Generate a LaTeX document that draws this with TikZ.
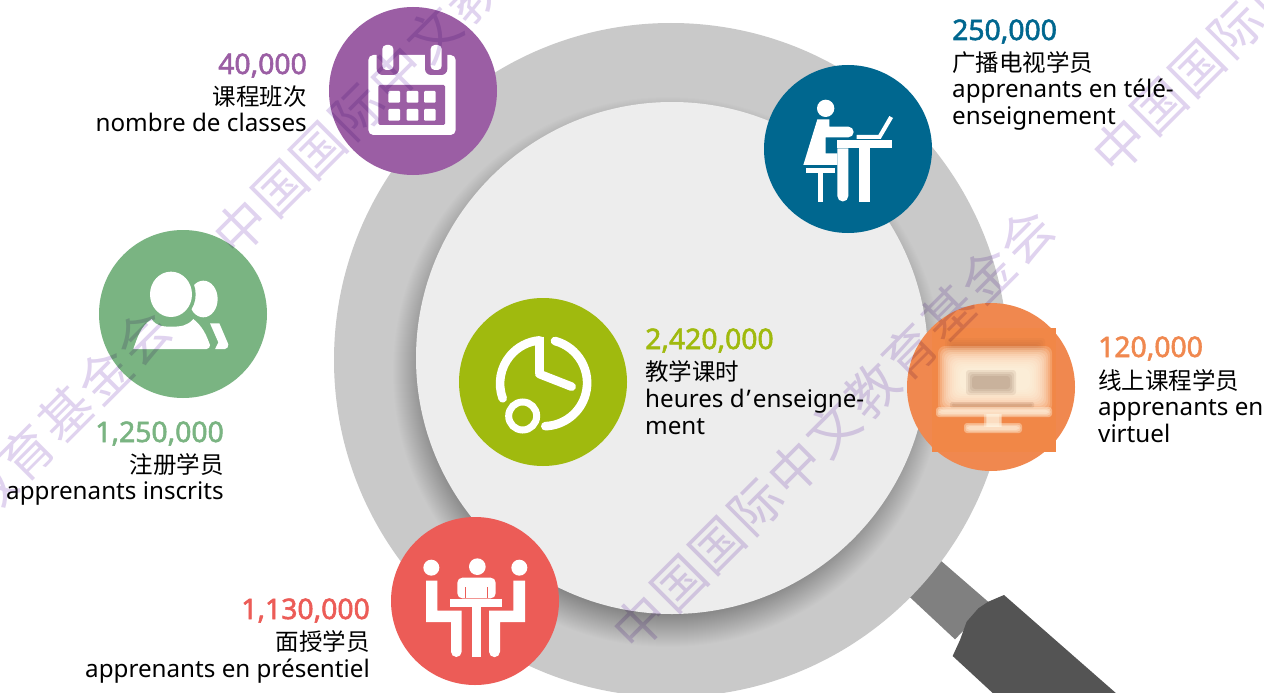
\documentclass[tikz,border=0pt]{standalone}
\usepackage{fontspec}
\setmainfont{Noto Sans}
\newfontfamily\cjk{Noto Sans CJK SC}
\newfontfamily\numfont[FakeBold=2]{Noto Sans}
\newfontfamily\wmfont[LetterSpace=5]{Noto Sans CJK SC}
\usetikzlibrary{shapes.geometric}
\definecolor{cpurple}{HTML}{9B5EA4}
\definecolor{cblue}{HTML}{00678F}
\definecolor{cgreen}{HTML}{7AB482}
\definecolor{clime}{HTML}{A0BA0E}
\definecolor{corange}{HTML}{F0884F}
\definecolor{cred}{HTML}{EC5C57}
\definecolor{wmark}{HTML}{E0D3EF}
\definecolor{cream}{HTML}{FFF6E4}
\tikzset{
  badge/.style={circle,minimum size=168pt,inner sep=0pt,draw=none},
  numr/.style={anchor=base east,inner sep=0pt,font=\fontsize{28.3}{28}\selectfont\numfont},
  numl/.style={anchor=base west,inner sep=0pt,font=\fontsize{28.3}{28}\selectfont\numfont},
  txtr/.style={anchor=base east,inner sep=0pt,font=\fontsize{24.2}{24}\selectfont,text=black},
  txtl/.style={anchor=base west,inner sep=0pt,font=\fontsize{24.2}{24}\selectfont,text=black},
  cjkr/.style={anchor=base east,inner sep=0pt,font=\fontsize{23.5}{23}\selectfont\cjk,text=black},
  cjkl/.style={anchor=base west,inner sep=0pt,font=\fontsize{23.5}{23}\selectfont\cjk,text=black},
  wmtext/.style={inner sep=0pt,rotate=45,text=wmark,font=\fontsize{52}{52}\selectfont\wmfont},
  zoomed/.style={x=.33333pt,y=-.33333pt}
}
\begin{document}
\begin{tikzpicture}[x=1pt,y=-1pt]
\useasboundingbox (0,0) rectangle (1264,693);
\fill[white] (0,0) rectangle (1264,693);
% handle
\begin{scope}[shift={(880,550)},zoomed]
\fill[black!50] (180,30) -- (330,160) -- (225,268) -- (88,140) -- cycle;
\fill[black!67] (218,318) -- (240,270) -- (260,215) -- (295,175) -- (325,155) -- (372,135) -- (720,440) -- (350,440) -- cycle;
\end{scope}
% lens ring
\fill[black!21] (671,360) circle (337);
% shadow of glass
\foreach \r in {242,...,275}
  \fill[black,opacity=.009] (668,372) circle (\r);
\fill[black!7] (672,358) circle (256);
% badges
\node[badge,fill=cpurple] (purple) at (413,91) {};
\node[badge,fill=cblue] (blue) at (848,149) {};
\node[badge,fill=cgreen] (green) at (183,314) {};
\node[badge,fill=clime] (lime) at (543,382) {};
\node[badge,fill=corange] (orange) at (991,387) {};
\node[badge,fill=cred] (red) at (475,601) {};
% calendar
\begin{scope}[shift={(320,0)},zoomed]
\fill[white,rounded corners=5pt] (145,165) rectangle (407,405);
\fill[cpurple,rounded corners=1.5pt] (175,255) rectangle (375,375);
\fill[cpurple,rounded corners=6pt] (170,120) rectangle (237,225);
\fill[cpurple,rounded corners=6pt] (315,120) rectangle (382,225);
\fill[white,rounded corners=4pt] (187,135) rectangle (220,210);
\fill[white,rounded corners=4pt] (332,135) rectangle (365,210);
\foreach \cx in {205,260,312} \foreach \cy in {273,327}
  \fill[white,rounded corners=1pt] (\cx,\cy) rectangle ++(35,35);
\end{scope}
% student at desk
\begin{scope}[shift={(760,60)},zoomed,white]
\fill (197,145) circle (26);
\fill (172,178) -- (208,178) -- (208,200) -- (265,200) arc[start angle=-90,end angle=90,radius=16] -- (197,232) -- (197,280) -- (232,280) -- (232,315) -- (130,315) -- cycle;
\fill (232,315) -- (232,408) arc[start angle=180,end angle=0,radius=16.5] -- (265,265) -- (232,265) -- cycle;
\fill (232,240) rectangle (397,265);
\fill (298,265) rectangle (330,425);
\fill (138,325) rectangle (225,340);
\fill (173,340) rectangle (190,425);
\fill (290,225) -- (355,225) -- (388,168) -- (399,174) -- (362,237) -- (290,237) -- cycle;
\end{scope}
% group
\begin{scope}[shift={(90,225)},zoomed,white]
\fill (340,222) ellipse [x radius=43,y radius=55];
\fill (360,295) -- (388,295) -- (415,358) to[out=-90,in=0] (405,372) -- (375,372) -- (385,352) -- cycle;
\fill[cgreen] (243,208) ellipse [x radius=74,y radius=80];
\fill[cgreen] (200,272) -- (320,272) -- (375,350) -- (375,380) -- (130,380) -- cycle;
\fill (130,372) to[out=70,in=215] (185,282) to[out=-60,in=180] (245,305) to[out=0,in=230] (310,282) to[out=-40,in=110] (360,360) to[out=-90,in=0] (350,372) -- cycle;
\fill (243,208) ellipse [x radius=63,y radius=68];
\end{scope}
% clock
\begin{scope}[shift={(450,295)},zoomed]
\draw[white,line width=8.6pt,line cap=round] (315,138) arc[start angle=-75,end angle=88,radius=130];
\draw[white,line width=8.6pt,line cap=round] (158,310) arc[start angle=160,end angle=265,radius=130];
\draw[white,line width=8.6pt,line join=round] (268,125) -- (268,237);
\draw[white,line width=8.6pt,line cap=round,line join=round] (268,237) -- (365,275);
\draw[white,line width=7pt] (218,363) circle (42);
\end{scope}
% monitor blur
\fill[corange!90!orange] (932,328) rectangle (1056,452);
\foreach \d in {0,2,4,6}
  \fill[black!30!corange,opacity=.07,rounded corners=3pt] (945+\d,338+\d) rectangle (1045-\d,354-\d);
\foreach \d in {0,2,...,22}
  \fill[cream,opacity=.2,rounded corners=7pt] (938+\d,346+\d) rectangle (1052-\d,412-\d);
\foreach \d in {0,2,4,6}
  \fill[black!60!corange,opacity=.09,rounded corners=3pt] (966+\d,370+\d) rectangle (1016-\d,395-\d);
\foreach \d in {0,1.5,3}
  \fill[black!50!corange,opacity=.12,rounded corners=1.5pt] (950+\d,402+\d) rectangle (1034-\d,408-\d);
\foreach \d in {0,1.5,3}
  \fill[cream,opacity=.4,rounded corners=3pt] (964+\d,423+\d) rectangle (1022-\d,433-\d);
\foreach \d in {0,1.5,3}
  \fill[cream,opacity=.4,rounded corners=3pt] (936+\d,407+\d) rectangle (1052-\d,417-\d);
\foreach \d in {0,1.5,3}
  \fill[cream,opacity=.4] (984+\d,414) rectangle (1002-\d,427);
% meeting
\begin{scope}[shift={(385,510)},zoomed,white]
\fill (139,173) circle (24); \fill (277,170) circle (25); \fill (403,173) circle (24);
\fill (123,212) -- (157,212) -- (157,302) -- (230,302) -- (230,425) arc[start angle=0,end angle=180,radius=16] -- (198,336) -- (123,336) -- cycle;
\fill (420,212) -- (385,212) -- (385,302) -- (312,302) -- (312,425) arc[start angle=180,end angle=0,radius=16.5] -- (345,336) -- (420,336) -- cycle;
\fill (196,267) rectangle (352,290);
\fill (260,290) rectangle (288,440);
\fill[rounded corners=5pt] (217,265) -- (217,203) -- (332,203) -- (332,265) -- cycle;
\draw[cred,line width=.5pt] (240,232) -- (240,263) (306,232) -- (306,263);
\end{scope}
% texts
\node[numr,text=cpurple] (n1) at (307,74) {40,000};
\node[cjkr] (c1) at (307,105) {课程班次};
\node[txtr] (f1) at (307,131) {nombre de classes};
\node[numr,text=cgreen] (n2) at (224,442) {1,250,000};
\node[cjkr] (c2) at (224,473) {注册学员};
\node[txtr] (f2) at (224,499) {apprenants inscrits};
\node[numr,text=cred] (n3) at (370,619) {1,130,000};
\node[cjkr] (c3) at (370,650) {面授学员};
\node[txtr] (f3) at (370,677) {apprenants en présentiel};
\node[numl,text=cblue] (n4) at (952,40) {250,000};
\node[cjkl] (c4) at (952,71) {广播电视学员};
\node[txtl] (f4) at (952,98) {apprenants en télé-};
\node[txtl] (f4b) at (952,124) {enseignement};
\node[numl,text=clime] (n5) at (645,349) {2,420,000};
\node[cjkl] (c5) at (645,380) {教学课时};
\node[txtl] (f5) at (645,407) {heures d\hspace{2pt}’\hspace{2pt}enseigne-};
\node[txtl] (f5b) at (645,434) {ment};
\node[numl,text=corange] (n6) at (1098,357) {120,000};
\node[cjkl] (c6) at (1098,389) {线上课程学员};
\node[txtl] (f6) at (1098,415) {apprenants en};
\node[txtl] (f6b) at (1098,442) {virtuel};
% watermark
\begin{scope}[blend mode=multiply]
\node[wmtext] (w1) at (-50,530) {中国国际中文教育基金会};
\node[wmtext] (w2) at (434,34) {中国国际中文教育基金会};
\node[wmtext] (w3) at (833,429) {中国国际中文教育基金会};
\node[wmtext] (w4) at (1313,-48) {中国国际中文教育基金会};
\end{scope}
\end{tikzpicture}
\end{document}
